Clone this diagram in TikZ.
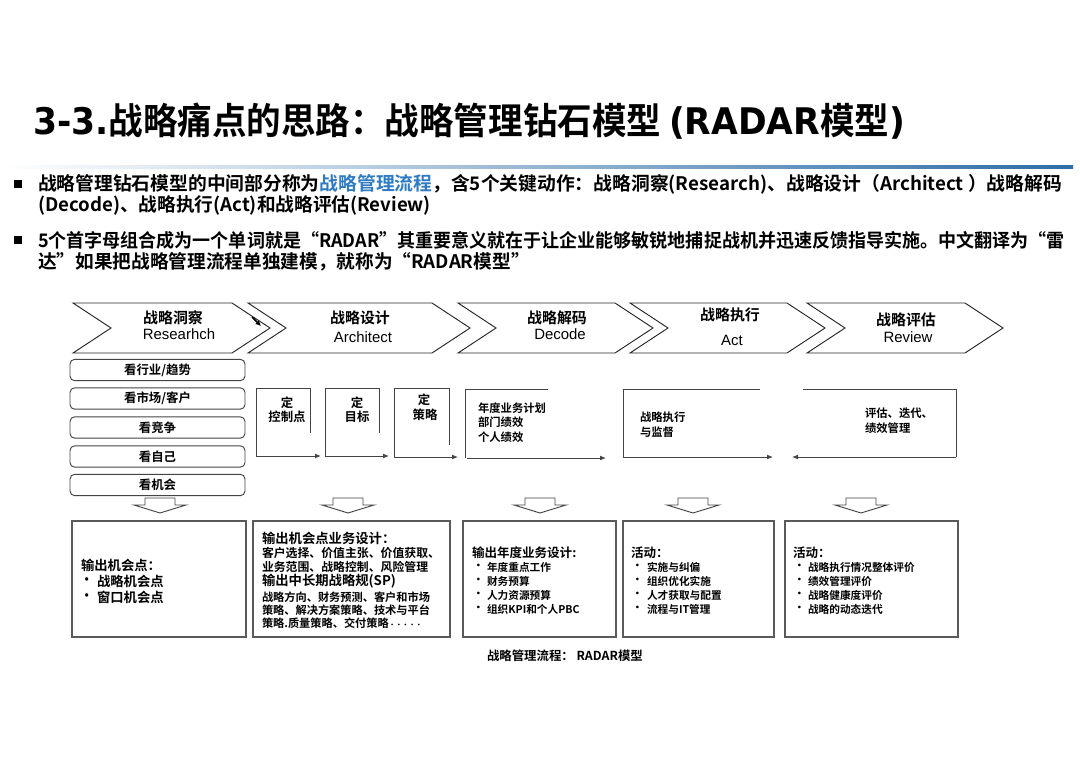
\documentclass[tikz,border=0pt]{standalone}
\usepackage{graphicx}
\usepackage{fontspec}
\setmainfont{Noto Sans CJK SC}[BoldFont={Noto Sans CJK SC Bold}]
\newfontfamily\arial{Liberation Sans}
\newfontfamily\titlelat{DejaVu Sans}
\usetikzlibrary{arrows.meta}
\definecolor{lineblue}{HTML}{2E6DA6}
\definecolor{hlblue}{HTML}{2E7BC4}
\definecolor{dgray}{HTML}{444444}
\definecolor{bgray}{HTML}{5A5A5A}
\tikzset{
  txt/.style={inner sep=0pt, outer sep=0pt, text=black},
  ttl/.style={txt, anchor=west, font=\bfseries\fontsize{27.5}{30}\selectfont},
  bul/.style={txt, anchor=west, font=\bfseries\fontsize{14}{16}\selectfont},
  sqb/.style={fill=black, minimum size=5.5pt, inner sep=0pt},
  chev/.style={draw=black!85, line width=0.7pt, fill=white},
  chz/.style={txt, font=\bfseries\fontsize{11.2}{13}\selectfont},
  cen/.style={txt, font=\arial\fontsize{11.2}{13}\selectfont},
  rbox/.style={draw=dgray, line width=0.7pt, rounded corners=3.5pt, inner sep=0pt,
     minimum width=131.25pt, minimum height=16pt,
     font=\bfseries\fontsize{9.3}{11}\selectfont},
  brk/.style={draw=dgray, line width=0.6pt},
  arr/.style={draw=dgray, line width=0.6pt, -{Latex[length=4.5pt,width=3.6pt]}},
  mid/.style={txt, font=\bfseries\fontsize{9.3}{11}\selectfont},
  midl/.style={txt, anchor=west, font=\bfseries\fontsize{8.5}{10}\selectfont},
  hol/.style={draw=dgray, line width=0.7pt, fill=white},
  obox/.style={draw=bgray, line width=1.1pt, fill=none},
  hd/.style={txt, anchor=west, font=\bfseries\fontsize{10}{12}\selectfont},
  hdb/.style={txt, anchor=west, font=\bfseries\fontsize{9.4}{11}\selectfont},
  itm/.style={txt, anchor=west, font=\bfseries\fontsize{8.9}{10}\selectfont},
  itms/.style={txt, anchor=west, font=\bfseries\fontsize{8.4}{10}\selectfont},
  itmx/.style={txt, anchor=west, font=\bfseries\fontsize{8}{10}\selectfont},
  captxt/.style={txt, anchor=west, font=\bfseries\fontsize{9.3}{11}\selectfont}
}
\begin{document}
\begin{tikzpicture}[x=0.75pt,y=-0.75pt]
\useasboundingbox (0,0) rectangle (1080,763);
\fill[white] (0,0) rectangle (1080,763);

% title
\node[ttl] (title) at (33,121) {\resizebox{654pt}{\height}{{\titlelat 3-3.}战略痛点的思路：战略管理钻石模型 {\titlelat (RADAR}模型{\titlelat )}}};
\shade[left color=white, middle color=lineblue!55, right color=lineblue] (0,165.5) rectangle (1073,168.5);

% bullets
\node[sqb] (sq1) at (18,184) {};
\node[bul] (b1a) at (38,184) {\resizebox{768pt}{\height}{战略管理钻石模型的中间部分称为\textcolor{hlblue}{战略管理流程}，含5个关键动作：战略洞察(Research)、战略设计（Architect ）战略解码}};
\node[bul] (b1b) at (38,205) {(Decode)、战略执行(Act)和战略评估(Review)};
\node[sqb] (sq2) at (18,240) {};
\node[bul] (b2a) at (38,240) {\resizebox{770pt}{\height}{5个首字母组合成为一个单词就是“RADAR”其重要意义就在于让企业能够敏锐地捕捉战机并迅速反馈指导实施。中文翻译为“雷}};
\node[bul] (b2b) at (38,262) {达”如果把战略管理流程单独建模，就称为“RADAR模型”};

% chevrons
\draw[chev] (73,303) -- (232,303) -- (270,328) -- (232,353) -- (73,353) -- (111,328) -- cycle;
\draw[chev] (248,303) -- (432,303) -- (470,328) -- (432,353) -- (248,353) -- (286,328) -- cycle;
\draw[chev] (458,303) -- (615,303) -- (653,328) -- (615,353) -- (458,353) -- (496,328) -- cycle;
\draw[chev] (630,303) -- (787,303) -- (825,328) -- (787,353) -- (630,353) -- (668,328) -- cycle;
\draw[chev] (807,303) -- (965,303) -- (1003,328) -- (965,353) -- (807,353) -- (845,328) -- cycle;
\node[chz] (c1z) at (173,318) {战略洞察};
\node[cen] (c1e) at (179,334) {Researhch};
\node[chz] (c2z) at (360,318) {战略设计};
\node[cen] (c2e) at (363,337) {Architect};
\node[chz] (c3z) at (557,318) {战略解码};
\node[cen] (c3e) at (560,334) {Decode};
\node[chz] (c4z) at (730,315) {战略执行};
\node[cen] (c4e) at (732,340) {Act};
\node[chz] (c5z) at (906,320) {战略评估};
\node[cen] (c5e) at (908,337) {Review};
\coordinate (mk1) at (252,317);
\coordinate (mk2) at (261,326);
\draw[line width=1.3pt, -{Latex[length=4pt,width=4pt]}] (mk1) -- (mk2);

% left rounded boxes
\node[rbox] (l1) at (157.5,370) {看行业/趋势};
\node[rbox] (l2) at (157.5,398.5) {看市场/客户};
\node[rbox] (l3) at (157.5,427.5) {看竞争};
\node[rbox] (l4) at (157.5,456.5) {看自己};
\node[rbox] (l5) at (157.5,485) {看机会};

% brackets 定
\draw[brk] (310,433) -- (310,388) -- (256,388) -- (256,456);
\coordinate (a1s) at (256,456); \coordinate (a1e) at (321,456);
\draw[arr] (a1s) -- (a1e);
\node[mid] (d1a) at (287,403) {定};
\node[mid] (d1b) at (287,417) {控制点};

\draw[brk] (379,433) -- (379,388) -- (325,388) -- (325,456);
\coordinate (a2s) at (325,456); \coordinate (a2e) at (389,456);
\draw[arr] (a2s) -- (a2e);
\node[mid] (d2a) at (357,403) {定};
\node[mid] (d2b) at (357,417) {目标};

\draw[brk] (449,445) -- (449,388) -- (394,388) -- (394,457);
\coordinate (a3s) at (394,457); \coordinate (a3e) at (458,457);
\draw[arr] (a3s) -- (a3e);
\node[mid] (d3a) at (424,400) {定};
\node[mid] (d3b) at (425,415) {策略};

% decode bracket
\draw[brk] (548,389) -- (465,389) -- (465,458);
\coordinate (a4s) at (467,458); \coordinate (a4e) at (606,458);
\draw[arr] (a4s) -- (a4e);
\node[midl] (t4a) at (478,408) {年度业务计划};
\node[midl] (t4b) at (478,422) {部门绩效};
\node[midl] (t4c) at (478,437) {个人绩效};

% act bracket
\draw[brk] (760,389) -- (623,389) -- (623,457);
\coordinate (a5s) at (623,457); \coordinate (a5e) at (773,457);
\draw[arr] (a5s) -- (a5e);
\node[midl] (t5a) at (640,417) {战略执行};
\node[midl] (t5b) at (640,432) {与监督};

% review bracket
\draw[brk] (803,389) -- (956,389) -- (956,457);
\coordinate (a6s) at (956,457); \coordinate (a6e) at (792,457);
\draw[arr] (a6s) -- (a6e);
\node[midl] (t6a) at (865,413) {评估、迭代、};
\node[midl] (t6b) at (865,428) {绩效管理};

% hollow down arrows
\foreach \cx/\nm in {160/h1,348/h2,540/h3,693/h4,861/h5}{
  \draw[hol] (\cx-15,498) -- (\cx+15,498) -- (\cx+15,505) -- (\cx+26,505) -- (\cx,513)
     -- (\cx-26,505) -- (\cx-15,505) -- cycle;
  \coordinate (\nm) at (\cx,505);
}

% output boxes
\draw[obox] (72,521) rectangle (246,637);
\draw[obox] (253,521) rectangle (450,637);
\draw[obox] (463,521) rectangle (616,637);
\draw[obox] (623,521) rectangle (774,637);
\draw[obox] (785,521) rectangle (958,637);

% box 1
\node[hd] (o1h) at (81,565) {输出机会点：};
\node[hd] (o1d1) at (80,581) {•};
\node[hd] (o1i1) at (97,581) {战略机会点};
\node[hd] (o1d2) at (80,597) {•};
\node[hd] (o1i2) at (97,597) {窗口机会点};

% box 2
\node[hd] (o2h) at (262,538) {输出机会点业务设计：};
\node[itm] (o2a) at (262,553) {客户选择、价值主张、价值获取、};
\node[itm] (o2b) at (262,567) {业务范围、战略控制、风险管理};
\node[hd] (o2c) at (262,581) {输出中长期战略规(SP)};
\node[itms] (o2d) at (262,597) {战略方向、财务预测、客户和市场};
\node[itms] (o2e) at (262,610) {策略、解决方案策略、技术与平台};
\node[itms] (o2f) at (262,623) {策略.质量策略、交付策略{\fontsize{5}{6}\selectfont ·····}};

% box 3
\node[hdb] (o3h) at (472,553) {输出年度业务设计:};
\node[itmx] (o3d1) at (473,567) {•}; \node[itmx] (o3a) at (487,567) {年度重点工作};
\node[itmx] (o3d2) at (473,581) {•}; \node[itmx] (o3b) at (487,581) {财务预算};
\node[itmx] (o3d3) at (473,595) {•}; \node[itmx] (o3c) at (487,595) {人力资源预算};
\node[itmx] (o3d4) at (473,609) {•}; \node[itmx] (o3e) at (487,609) {组织KPI和个人PBC};

% box 4
\node[hdb] (o4h) at (631,553) {活动：};
\node[itmx] (o4d1) at (632,567) {•}; \node[itmx] (o4a) at (647,567) {实施与纠偏};
\node[itmx] (o4d2) at (632,581) {•}; \node[itmx] (o4b) at (647,581) {组织优化实施};
\node[itmx] (o4d3) at (632,595) {•}; \node[itmx] (o4c) at (647,595) {人才获取与配置};
\node[itmx] (o4d4) at (632,609) {•}; \node[itmx] (o4e) at (647,609) {流程与IT管理};

% box 5
\node[hdb] (o5h) at (793,553) {活动：};
\node[itmx] (o5d1) at (794,567) {•}; \node[itmx] (o5a) at (808,567) {战略执行情况整体评价};
\node[itmx] (o5d2) at (794,581) {•}; \node[itmx] (o5b) at (808,581) {绩效管理评价};
\node[itmx] (o5d3) at (794,595) {•}; \node[itmx] (o5c) at (808,595) {战略健康度评价};
\node[itmx] (o5d4) at (794,609) {•}; \node[itmx] (o5e) at (808,609) {战略的动态迭代};

% caption
\node[captxt] (capt) at (487,656) {战略管理流程： RADAR模型};
\end{tikzpicture}
\end{document}
